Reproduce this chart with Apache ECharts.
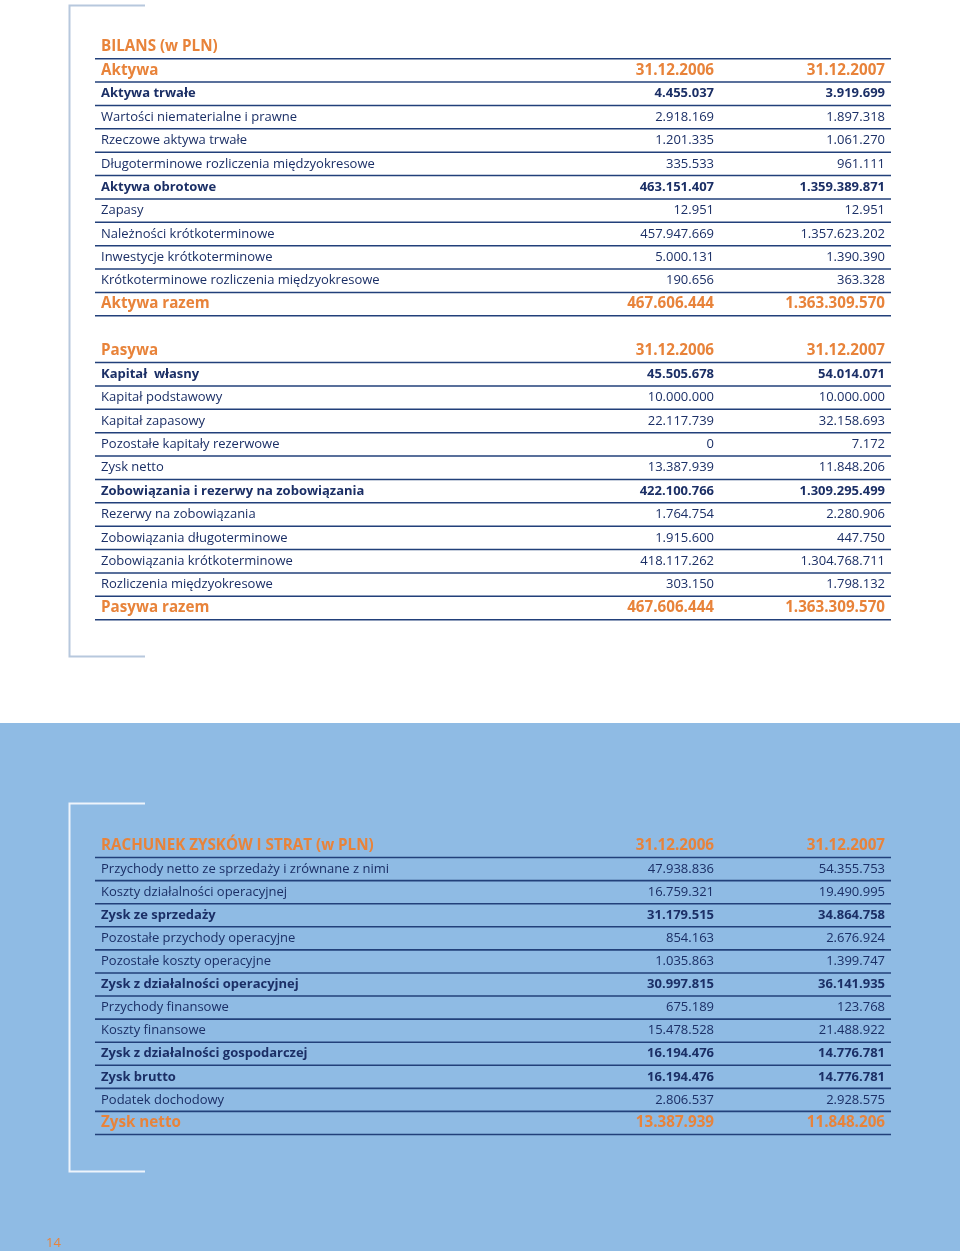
<!DOCTYPE html>
<html><head><meta charset="utf-8">
<script src="https://cdn.jsdelivr.net/npm/echarts@6/dist/echarts.min.js"></script>
<style>html,body{margin:0;padding:0;background:#fff}#c{width:960px;height:1251px}</style>
</head><body><div id="c"></div>
<script>
// ---- DATA ----
const periods = ['31.12.2006', '31.12.2007'];

const bilansLabels = [
  'BILANS (w PLN)', 'Aktywa', 'Aktywa trwałe', 'Wartości niematerialne i prawne', 'Rzeczowe aktywa trwałe',
  'Długoterminowe rozliczenia międzyokresowe', 'Aktywa obrotowe', 'Zapasy', 'Należności krótkoterminowe',
  'Inwestycje krótkoterminowe', 'Krótkoterminowe rozliczenia międzyokresowe', 'Aktywa razem', '',
  'Pasywa', 'Kapitał  własny', 'Kapitał podstawowy', 'Kapitał zapasowy', 'Pozostałe kapitały rezerwowe',
  'Zysk netto', 'Zobowiązania i rezerwy na zobowiązania', 'Rezerwy na zobowiązania',
  'Zobowiązania długoterminowe', 'Zobowiązania krótkoterminowe', 'Rozliczenia międzyokresowe', 'Pasywa razem'
];
const bilansKinds = [
  'title', 'head', 'subtotal', 'item', 'item', 'item', 'subtotal', 'item', 'item', 'item', 'item', 'total', 'spacer',
  'head', 'subtotal', 'item', 'item', 'item', 'item', 'subtotal', 'item', 'item', 'item', 'item', 'total'
];
const bilans2006 = [
  null, null, 4455037, 2918169, 1201335, 335533, 463151407, 12951, 457947669, 5000131, 190656, 467606444, null,
  null, 45505678, 10000000, 22117739, 0, 13387939, 422100766, 1764754, 1915600, 418117262, 303150, 467606444
];
const bilans2007 = [
  null, null, 3919699, 1897318, 1061270, 961111, 1359389871, 12951, 1357623202, 1390390, 363328, 1363309570, null,
  null, 54014071, 10000000, 32158693, 7172, 11848206, 1309295499, 2280906, 447750, 1304768711, 1798132, 1363309570
];

const rzisLabels = [
  'RACHUNEK ZYSKÓW I STRAT (w PLN)', 'Przychody netto ze sprzedaży i zrównane z nimi',
  'Koszty działalności operacyjnej', 'Zysk ze sprzedaży', 'Pozostałe przychody operacyjne',
  'Pozostałe koszty operacyjne', 'Zysk z działalności operacyjnej', 'Przychody finansowe', 'Koszty finansowe',
  'Zysk z działalności gospodarczej', 'Zysk brutto', 'Podatek dochodowy', 'Zysk netto'
];
const rzisKinds = [
  'head', 'item', 'item', 'subtotal', 'item', 'item', 'subtotal', 'item', 'item', 'subtotal', 'subtotal', 'item', 'total'
];
const rzis2006 = [
  null, 47938836, 16759321, 31179515, 854163, 1035863, 30997815, 675189, 15478528, 16194476, 16194476, 2806537, 13387939
];
const rzis2007 = [
  null, 54355753, 19490995, 34864758, 2676924, 1399747, 36141935, 123768, 21488922, 14776781, 14776781, 2928575, 11848206
];

const pageNumber = '14';

// ---- RENDER ----
const ORANGE = '#e8833a', NAVY = '#1b2f66', RULE = '#22407a';
const FONT = '"Open Sans", "Noto Sans", sans-serif';

function fmt(v) {
  if (v === null || v === undefined) return '';
  return String(v).replace(/\B(?=(\d{3})+(?!\d))/g, '.');
}

function makeRender(labels, kinds, v1, v2) {
  return function (params, api) {
    const i = api.value(1);
    const kind = kinds[i];
    if (kind === 'spacer') return { type: 'group', children: [] };
    const cs = params.coordSys;
    const y = api.coord([0, i])[1];
    const band = api.size([0, 1])[1];
    const left = cs.x, right = cs.x + cs.width;
    const col1 = left + 619, col2 = left + 790, tx = left + 6;
    let font, color;
    if (kind === 'title' || kind === 'head' || kind === 'total') {
      font = 'bold 15.2px ' + FONT; color = ORANGE;
    } else if (kind === 'subtotal') {
      font = 'bold 13px ' + FONT; color = NAVY;
    } else {
      font = '13px ' + FONT; color = NAVY;
    }
    let c1 = fmt(v1[i]), c2 = fmt(v2[i]);
    if (kind === 'head') { c1 = periods[0]; c2 = periods[1]; }
    const children = [
      { type: 'text', style: { text: labels[i], x: tx, y: y, font: font, fill: color, align: 'left', verticalAlign: 'middle' } },
      { type: 'text', style: { text: c1, x: col1, y: y, font: font, fill: color, align: 'right', verticalAlign: 'middle' } },
      { type: 'text', style: { text: c2, x: col2, y: y, font: font, fill: color, align: 'right', verticalAlign: 'middle' } },
      { type: 'line', shape: { x1: left, y1: y + band / 2, x2: right, y2: y + band / 2 },
        style: { stroke: RULE, lineWidth: 1.6 } }
    ];
    return { type: 'group', children: children };
  };
}

const chart = echarts.init(document.getElementById('c'), null, { renderer: 'canvas' });
const bilansBand = 23.375, rzisBand = 23.08;
chart.setOption({
  backgroundColor: '#ffffff',
  animation: false,
  grid: [
    { left: 95, right: 69, top: 47 - bilansBand / 2, height: bilansBand * bilansLabels.length },
    { left: 95, right: 69, top: 846 - rzisBand / 2, height: rzisBand * rzisLabels.length }
  ],
  xAxis: [
    { gridIndex: 0, type: 'value', min: 0, max: 1, show: false },
    { gridIndex: 1, type: 'value', min: 0, max: 1, show: false }
  ],
  yAxis: [
    { gridIndex: 0, type: 'category', data: bilansLabels, inverse: true, show: false },
    { gridIndex: 1, type: 'category', data: rzisLabels, inverse: true, show: false }
  ],
  graphic: { elements: [
    { type: 'rect', z: 0, shape: { x: 0, y: 723, width: 960, height: 528 }, style: { fill: '#8fbbe4' } },
    { type: 'polyline', z: 1, shape: { points: [[145, 5.5], [69.5, 5.5], [69.5, 656.5], [145, 656.5]] },
      style: { stroke: '#b7c8dd', lineWidth: 2, fill: null } },
    { type: 'polyline', z: 1, shape: { points: [[145, 803.5], [69.5, 803.5], [69.5, 1171.5], [145, 1171.5]] },
      style: { stroke: '#eef4fb', lineWidth: 2, fill: null } },
    { type: 'text', z: 1, style: { text: pageNumber, x: 46, y: 1243, font: '13px ' + FONT, fill: ORANGE, align: 'left', verticalAlign: 'middle' } }
  ] },
  series: [
    { type: 'custom', xAxisIndex: 0, yAxisIndex: 0, clip: false,
      data: bilansLabels.map((l, i) => [0, i]), encode: { x: 0, y: 1 },
      renderItem: makeRender(bilansLabels, bilansKinds, bilans2006, bilans2007) },
    { type: 'custom', xAxisIndex: 1, yAxisIndex: 1, clip: false,
      data: rzisLabels.map((l, i) => [0, i]), encode: { x: 0, y: 1 },
      renderItem: makeRender(rzisLabels, rzisKinds, rzis2006, rzis2007) }
  ]
});
</script>
</body></html>
